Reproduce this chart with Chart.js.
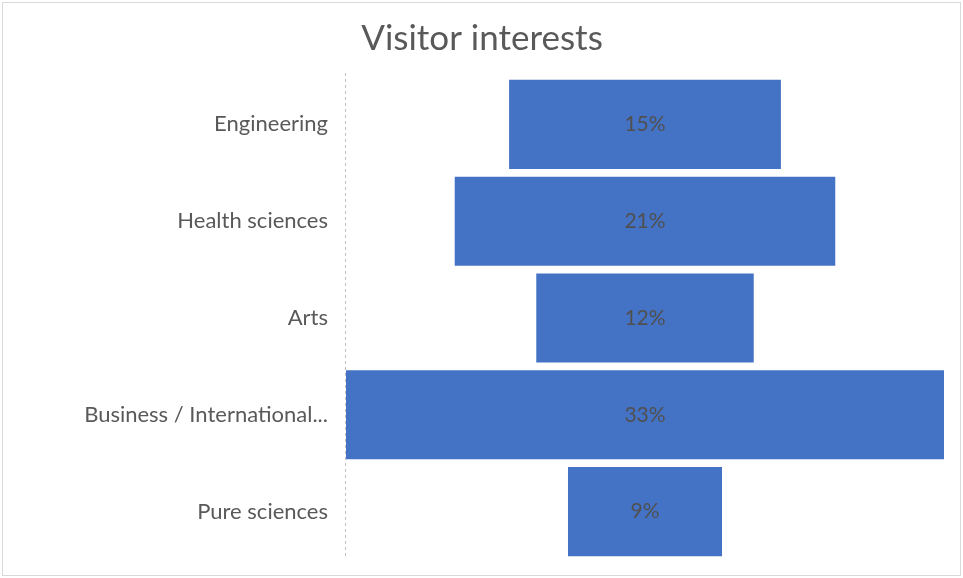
<!DOCTYPE html>
<html>
<head>
<meta charset="utf-8">
<script src="https://cdn.jsdelivr.net/npm/chart.js@4/dist/chart.umd.min.js"></script>
<style>
html,body{margin:0;padding:0;background:#fff;}
#wrap{width:963px;height:578px;position:relative;}
</style>
</head>
<body>
<div id="wrap"><canvas id="c" width="963" height="578"></canvas></div>
<script>
const title = 'Visitor interests';
const categories = ['Engineering', 'Health sciences', 'Arts', 'Business / International...', 'Pure sciences'];
const shares = [15, 21, 12, 33, 8.5];

const maxShare = Math.max(...shares);
const funnelData = shares.map(v => [-v / 2, v / 2]);

const frame = {
  id: 'frame',
  beforeDraw(chart) {
    const ctx = chart.ctx;
    ctx.save();
    ctx.fillStyle = '#ffffff';
    ctx.fillRect(0, 0, chart.width, chart.height);
    ctx.strokeStyle = '#d9d9d9';
    ctx.lineWidth = 1;
    ctx.strokeRect(2.5, 2.5, chart.width - 5, chart.height - 5);
    ctx.restore();
  },
  afterDatasetsDraw(chart) {
    const ctx = chart.ctx;
    const area = chart.chartArea;
    ctx.save();
    // dashed axis line
    ctx.strokeStyle = '#bfbfbf';
    ctx.lineWidth = 1;
    ctx.setLineDash([3, 3]);
    ctx.beginPath();
    ctx.moveTo(Math.round(area.left) - 0.5, area.top - 3);
    ctx.lineTo(Math.round(area.left) - 0.5, area.bottom - 2);
    ctx.stroke();
    ctx.setLineDash([]);
    // data labels
    const meta = chart.getDatasetMeta(0);
    ctx.fillStyle = '#505050';
    ctx.font = '21px Lato';
    ctx.textAlign = 'center';
    ctx.textBaseline = 'middle';
    meta.data.forEach((bar, i) => {
      const p = bar.getProps(['x', 'y', 'base'], true);
      ctx.fillText(Math.round(shares[i]) + '%', (p.x + p.base) / 2, p.y);
    });
    ctx.restore();
  }
};

new Chart(document.getElementById('c'), {
  type: 'bar',
  data: {
    labels: categories,
    datasets: [{
      data: funnelData,
      backgroundColor: '#4472C4',
      borderWidth: 0,
      barPercentage: 0.92,
      categoryPercentage: 1.0,
      borderSkipped: false
    }]
  },
  options: {
    indexAxis: 'y',
    responsive: false,
    animation: false,
    devicePixelRatio: 1,
    layout: { padding: { left: 20, right: 19, bottom: 18, top: 0 } },
    plugins: {
      legend: { display: false },
      tooltip: { enabled: false },
      title: {
        display: true,
        text: title,
        color: '#595959',
        font: { family: 'Lato', size: 35, weight: 'normal' },
        padding: { top: 18, bottom: 16 }
      }
    },
    scales: {
      x: {
        display: false,
        min: -maxShare / 2,
        max: maxShare / 2
      },
      y: {
        grid: { display: false, drawTicks: false },
        border: { display: false },
        ticks: {
          color: '#595959',
          font: { family: 'Lato', size: 22 },
          padding: 18
        },
        afterFit(scale) {
          scale.width = 326;
          scale.paddingTop = 0;
          scale.paddingBottom = 0;
        }
      }
    }
  },
  plugins: [frame]
});
</script>
</body>
</html>
